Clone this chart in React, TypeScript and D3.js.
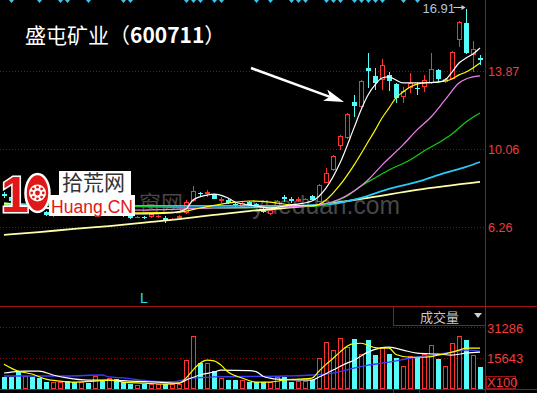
import React from 'react';
import * as d3 from 'd3';

// ---------- data ----------
const candleOpen = [
  7.88, 7.74, 7.59, 7.25, 7.35, 7.20, 7.01, 6.81, 6.91, 7.06,
  7.01, 6.91, 7.01, 6.81, 6.93, 6.84, 6.93, 6.88, 6.81, 6.72,
  6.76, 6.76, 6.76, 6.72, 6.62, 6.72, 6.96, 7.54, 7.94, 7.88,
  7.88, 7.54, 7.59, 7.40, 7.25, 7.50, 7.40, 7.16, 6.91, 7.25,
  7.74, 7.64, 7.54, 7.62, 7.79, 7.50, 8.42, 9.05, 10.22, 10.61,
  12.36, 12.12, 14.02, 13.63, 13.43, 13.68, 13.24, 12.60, 13.04, 13.04,
  13.09, 13.29, 13.92, 13.33, 13.48, 15.38, 16.21, 14.65, 14.50,
];
const candleHigh = [
  7.98, 7.79, 7.64, 7.45, 7.40, 7.25, 7.06, 6.96, 7.06, 7.11,
  7.06, 7.04, 7.04, 7.01, 6.98, 6.98, 6.96, 6.93, 6.86, 6.81,
  6.80, 6.96, 6.86, 6.81, 6.72, 6.86, 7.59, 8.27, 7.96, 8.08,
  7.90, 7.74, 7.64, 7.45, 7.50, 7.54, 7.45, 7.20, 7.16, 7.59,
  7.84, 7.74, 7.72, 7.70, 7.84, 8.37, 9.15, 9.80, 10.76, 11.83,
  12.70, 13.43, 14.75, 14.02, 14.45, 13.82, 13.29, 13.09, 13.77, 13.29,
  13.68, 14.75, 13.95, 13.53, 14.84, 16.30, 16.91, 15.33, 14.65,
];
const candleLow = [
  7.69, 7.50, 7.25, 7.20, 7.11, 6.96, 6.81, 6.76, 6.86, 6.91,
  6.88, 6.88, 6.88, 6.78, 6.81, 6.80, 6.83, 6.78, 6.68, 6.70,
  6.66, 6.72, 6.72, 6.47, 6.60, 6.68, 6.91, 7.50, 7.74, 7.74,
  7.62, 7.45, 7.40, 7.25, 7.20, 7.30, 7.22, 6.98, 6.86, 7.22,
  7.50, 7.45, 7.50, 7.60, 7.57, 7.48, 8.40, 9.00, 10.03, 10.58,
  11.63, 12.07, 13.04, 12.95, 12.95, 12.90, 12.31, 12.31, 12.80, 12.70,
  12.85, 13.24, 13.33, 13.29, 13.46, 15.04, 14.70, 13.82, 14.16,
];
const candleClose = [
  7.79, 7.54, 7.30, 7.40, 7.16, 7.01, 6.86, 6.91, 7.01, 6.96,
  6.91, 7.01, 6.93, 6.96, 6.86, 6.93, 6.88, 6.83, 6.72, 6.76,
  6.72, 6.91, 6.81, 6.57, 6.67, 6.81, 7.50, 8.03, 7.92, 7.98,
  7.64, 7.64, 7.45, 7.30, 7.45, 7.35, 7.25, 7.01, 7.11, 7.54,
  7.64, 7.54, 7.64, 7.66, 7.59, 8.32, 8.88, 9.73, 10.71, 11.78,
  12.17, 13.38, 13.87, 13.29, 14.16, 13.38, 12.56, 12.90, 13.29, 12.99,
  13.43, 13.97, 13.48, 13.48, 14.79, 16.25, 14.75, 14.94, 14.41,
];
const volumes = [
  6000, 6000, 9000, 6400, 6000, 5400, 3700, 3500, 3700, 4000,
  3700, 3300, 3200, 6700, 4000, 5700, 5000, 3700, 2700, 2000,
  2400, 2400, 2700, 2700, 2700, 2700, 14700, 26800, 13000, 13300,
  8900, 5400, 4500, 4500, 4500, 3700, 3700, 3700, 3300, 5900,
  6100, 3700, 4200, 4200, 4500, 15600, 23600, 19700, 26100, 21300,
  25600, 17700, 24700, 17200, 21300, 17700, 15500, 11600, 16700, 15500,
  18000, 22200, 15200, 11600, 23100, 26800, 24700, 17200, 11000,
];

// price moving averages: [candle index, price]
const ma5 = [[0,7.44],[5,7.25],[10,7.0],[15,6.96],[20,6.91],[24,6.96],[26,7.15],[27,7.59],[29,7.83],[30,7.88],[32,7.69],[33,7.49],[36,7.30],[38,7.20],[41,7.35],[44,7.54],[46,8.17],[48,9.39],[50,11.10],[51,11.97],[52,12.70],[53,13.19],[54,13.53],[55,13.58],[56,13.43],[57,13.29],[58,13.29],[60,13.29],[62,13.33],[63,13.43],[64,13.82],[65,14.26],[66,14.50],[67,14.70],[68,14.99]];
const ma10 = [[0,7.35],[10,7.15],[20,6.96],[25,7.0],[28,7.20],[32,7.44],[35,7.54],[38,7.49],[41,7.35],[44,7.30],[46,7.59],[48,8.32],[50,9.29],[52,10.41],[53,10.98],[54,11.58],[55,12.07],[56,12.56],[57,12.85],[58,13.09],[60,13.29],[62,13.33],[64,13.48],[65,13.68],[66,13.82],[67,14.02],[68,14.26]];
const ma20 = [[0,7.20],[10,7.15],[20,7.10],[30,7.20],[40,7.25],[45,7.35],[48,7.64],[52,8.56],[54,9.29],[57,10.27],[59,11.0],[61,11.63],[63,12.46],[65,13.29],[66,13.48],[68,13.63]];
const ma30 = [[0,7.44],[15,7.30],[30,7.20],[40,7.25],[45,7.30],[47,7.49],[49,7.78],[51,8.27],[53,8.66],[55,9.05],[58,9.54],[60,9.98],[62,10.36],[64,10.80],[66,11.39],[68,11.83]];
const ma60 = [[0,7.35],[20,7.30],[40,7.30],[45,7.35],[47,7.40],[51,7.69],[55,8.13],[59,8.47],[63,8.91],[66,9.20],[68,9.44]];
const ma120 = [[0,5.89],[5,6.03],[10,6.18],[15,6.32],[21,6.52],[25,6.66],[30,6.86],[35,7.05],[40,7.20],[45,7.35],[52,7.69],[59,8.08],[68,8.47]];

// volume moving averages: [candle index, volume]
const volMa5 = [[0,12600],[2,9100],[4,7600],[6,5000],[8,4000],[10,3500],[13,4000],[15,4500],[17,3500],[20,3000],[23,2500],[25,3000],[26,5500],[27,9600],[28,13000],[29,14600],[30,14300],[31,12100],[32,8600],[34,5600],[36,3500],[38,3500],[40,4500],[42,5000],[44,5500],[45,9000],[46,12500],[47,15500],[48,18700],[49,21700],[50,23000],[51,23200],[52,22200],[53,21000],[54,20700],[55,20700],[56,17500],[58,16100],[60,16100],[62,17200],[64,18700],[65,19700],[66,20700],[68,20700]];
const volMa10 = [[0,8100],[1,8600],[3,9100],[5,9100],[7,7100],[9,5600],[12,4500],[15,4500],[18,4000],[22,3500],[25,3000],[26,4500],[28,7100],[30,8600],[31,9600],[35,9300],[36,8800],[37,6500],[38,5500],[39,5000],[44,4500],[45,6100],[47,9600],[49,13100],[50,14600],[52,18700],[55,21200],[57,19700],[59,18200],[62,17700],[64,17200],[66,18200],[68,18700]];
const volMa20 = [[0,6600],[9,6600],[14,7100],[15,6100],[17,5600],[21,4000],[24,3700],[27,5600],[30,6100],[40,6600],[44,7100],[47,8100],[50,10600],[52,12100],[55,13600],[58,15600],[61,17200],[64,18700],[66,19700],[68,19200]];

const priceTicks = [13.87, 10.06, 6.26];
const volumeTicks = [31286, 15643];
const topMarks = [1,5,8,9,12,17,18,26,27,28,30,31,36,38,41,42,43,46,47,48,50,51,52,53,54,57,59];

const title = '盛屯矿业（';
const titleCode = '600711';

export default function App() {
  const W = 537, H = 393;
  const RED = '#ff3232', CYAN = '#54fcfc', GRID = '#8c0c0c', FRAME = '#a01414', LABEL = '#f03c3c';
  const x = d3.scaleLinear().domain([0, 68]).range([4, 480]);
  const y = d3.scaleLinear().domain([6.26, 13.87]).range([227.3, 71]);
  const yv = d3.scaleLinear().domain([0, 31286]).range([389, 327.3]);
  const panelRight = 485.5;
  const n = candleOpen.length;
  const idx = d3.range(n);

  const pLine = d3.line<number[]>().x(d => x(d[0])).y(d => y(d[1])).curve(d3.curveMonotoneX);
  const vLine = d3.line<number[]>().x(d => x(d[0])).y(d => yv(d[1])).curve(d3.curveMonotoneX);

  const maxI = d3.maxIndex(candleHigh);
  const hx = Math.round(x(maxI)) + 0.5;
  const hy = y(candleHigh[maxI]);

  // annotation arrow pointing at the breakout candle
  const tip = [x(50) - 10, y(candleOpen[50])];
  const tail = [tip[0] - 93, tip[1] - 34];
  const len = Math.hypot(tip[0] - tail[0], tip[1] - tail[1]);
  const ux = (tip[0] - tail[0]) / len, uy = (tip[1] - tail[1]) / len;
  const px = -uy, py = ux;
  const bx = tip[0] - 20 * ux, by = tip[1] - 20 * uy;
  const nx = tip[0] - 15 * ux, ny = tip[1] - 15 * uy;
  const head = `M${tip[0]},${tip[1]} L${bx + 6 * px},${by + 6 * py} L${nx},${ny} L${bx - 6 * px},${by - 6 * py} Z`;

  const num = 'Liberation Sans, Arial, sans-serif';
  const cjk = '"Noto Sans CJK SC", sans-serif';

  return (
    <div style={{ position: 'fixed', left: 0, top: 0, width: W, height: H, background: '#000' }}>
      <svg width={W} height={H} style={{ display: 'block' }}>
        <rect x={0} y={0} width={W} height={H} fill="#000" />

        {/* grid */}
        {priceTicks.map(t => (
          <line key={t} x1={0} x2={panelRight} y1={Math.round(y(t)) + 0.5} y2={Math.round(y(t)) + 0.5}
            stroke={GRID} strokeDasharray="1 2" />
        ))}
        {volumeTicks.map(t => (
          <line key={t} x1={0} x2={panelRight} y1={Math.round(yv(t)) + 0.5} y2={Math.round(yv(t)) + 0.5}
            stroke={GRID} strokeDasharray="1 2" />
        ))}

        {/* watermark */}
        <text x={139} y={211} fontSize={22} fontFamily={cjk} fill="#474747">窗网</text>
        <text x={252} y={214} fontSize={25} fontFamily={num} fill="#474747" textLength={148} lengthAdjust="spacingAndGlyphs">yueduan.com</text>

        {/* top markers */}
        {topMarks.map(i => {
          const cx = Math.round(x(i));
          return <path key={i} d={`M${cx - 2},0 L${cx + 3},0 L${cx + 0.5},3 Z`} fill="#3cc8f0" />;
        })}

        {/* candles */}
        {idx.map(i => {
          const o = candleOpen[i], c = candleClose[i], h = candleHigh[i], l = candleLow[i];
          const cx = Math.round(x(i));
          const wx = cx + 0.5;
          const top = Math.round(y(Math.max(o, c)));
          const bot = Math.round(y(Math.min(o, c)));
          const yh = Math.round(y(h)), yl = Math.round(y(l));
          const bh = Math.max(bot - top, 1);
          if (c >= o) {
            return (
              <g key={i}>
                <line x1={wx} x2={wx} y1={yh} y2={top} stroke={RED} />
                <line x1={wx} x2={wx} y1={top + bh} y2={yl} stroke={RED} />
                {bh <= 1
                  ? <rect x={cx - 2} y={top} width={5} height={1} fill={RED} />
                  : <rect x={cx - 1.5} y={top + 0.5} width={4} height={bh - 1} fill="#000" stroke={RED} />}
              </g>
            );
          }
          return (
            <g key={i}>
              <line x1={wx} x2={wx} y1={yh} y2={yl} stroke={CYAN} />
              <rect x={cx - 2} y={top} width={5} height={bh} fill={CYAN} />
            </g>
          );
        })}

        {/* price MAs */}
        <path d={pLine(ma120) || ''} fill="none" stroke="#ffffa8" strokeWidth={1.8} />
        <path d={pLine(ma60) || ''} fill="none" stroke="#28c8f8" strokeWidth={1.8} />
        <path d={pLine(ma30) || ''} fill="none" stroke="#10d010" strokeWidth={1.2} />
        <path d={pLine(ma20) || ''} fill="none" stroke="#f080f0" strokeWidth={1.2} />
        <path d={pLine(ma10) || ''} fill="none" stroke="#ffff00" strokeWidth={1.2} />
        <path d={pLine(ma5) || ''} fill="none" stroke="#ffffff" strokeWidth={1.2} />

        {/* logo */}
        <g>
          <text x={1} y={212} fontSize={50} fontWeight="bold" fontFamily={num}
            fill="#e01818" stroke="#ffffff" strokeWidth={3} style={{ paintOrder: 'stroke' }}>1</text>
          <ellipse cx={37.5} cy={193} rx={12} ry={19} fill="#e01818" stroke="#ffffff" strokeWidth={2.5} />
          <circle cx={37.5} cy={193} r={8.5} fill="#ffffff" />
          {d3.range(8).map(k => (
            <circle key={k} cx={37.5 + 5.8 * Math.cos(k * Math.PI / 4)} cy={193 + 5.8 * Math.sin(k * Math.PI / 4)} r={1.4} fill="#e01818" />
          ))}
          <circle cx={37.5} cy={193} r={2.4} fill="#e01818" />
          <rect x={59} y={171} width={72} height={25} fill="#ffffff" />
          <text x={62} y={190} fontSize={21} fontFamily={cjk} fill="#333333">拾荒网</text>
          <rect x={49} y={195} width={86} height={21} fill="#ffffff" />
          <text x={51} y={213} fontSize={18} fontFamily={num} fill="#e01818" textLength={82} lengthAdjust="spacingAndGlyphs">Huang.CN</text>
        </g>

        {/* title */}
        <text x={25} y={43} fontSize={21} fontFamily={cjk} fill="#ffffff">
          {title}<tspan fontWeight="bold">{titleCode}</tspan>）
        </text>

        {/* high label */}
        <text x={hx - 44} y={hy + 4} fontSize={13} fontFamily={num} fill="#b4c4d8">{candleHigh[maxI].toFixed(2)}</text>
        <line x1={hx - 13} x2={hx - 2} y1={Math.round(hy) - 1.5} y2={Math.round(hy) - 1.5} stroke="#c8d0d8" />
        <path d={`M${hx - 1},${Math.round(hy) - 1.5} L${hx - 5},${Math.round(hy) - 4} L${hx - 5},${Math.round(hy) + 1} Z`} fill="#c8d0d8" />

        {/* arrow */}
        <line x1={tail[0]} y1={tail[1]} x2={nx} y2={ny} stroke="#ffffff" strokeWidth={2.5} />
        <path d={head} fill="#ffffff" />

        {/* frame */}
        <line x1={panelRight} x2={panelRight} y1={0} y2={H} stroke={FRAME} />
        <line x1={0} x2={W} y1={306.5} y2={306.5} stroke={FRAME} />
        <line x1={0} x2={W} y1={389.5} y2={389.5} stroke={FRAME} />
        <line x1={393.5} x2={393.5} y1={389} y2={H} stroke={FRAME} />
        <line x1={419.5} x2={419.5} y1={389} y2={H} stroke={FRAME} />
        <rect x={393.5} y={306.5} width={92} height={19} fill="none" stroke={FRAME} />
        <text x={420} y={322} fontSize={13} fontFamily={cjk} fill="#c8c8c8">成交量</text>
        <path d="M474,313 L482,313 L478,318 Z" fill="#d0d0d0" />
        <text x={140} y={303} fontSize={14} fontFamily={num} fill="#28e0f0">L</text>

        {/* price labels */}
        {priceTicks.map(t => (
          <text key={t} x={488} y={y(t) + 5} fontSize={12.5} fontFamily={num} fill={LABEL}>{t.toFixed(2)}</text>
        ))}
        {volumeTicks.map(t => (
          <text key={t} x={487} y={yv(t) + 5.3} fontSize={13} fontFamily={num} fill={LABEL}>{t}</text>
        ))}
        <rect x={486.5} y={376.5} width={29} height={12} fill="none" stroke={FRAME} />
        <text x={487} y={387} fontSize={13} fontFamily={num} fill={LABEL}>X100</text>

        {/* volume bars */}
        {idx.map(i => {
          const cx = Math.round(x(i));
          const top = Math.round(yv(volumes[i]));
          const base = 389;
          if (candleClose[i] >= candleOpen[i]) {
            return <rect key={i} x={cx - 1.5} y={top + 0.5} width={4} height={base - top - 1} fill="#000" stroke={RED} />;
          }
          return <rect key={i} x={cx - 2} y={top} width={5} height={base - top} fill={CYAN} />;
        })}

        {/* volume MAs */}
        <path d={vLine(volMa20) || ''} fill="none" stroke="#3c3cff" strokeWidth={1.3} />
        <path d={vLine(volMa10) || ''} fill="none" stroke="#ffffff" strokeWidth={1.2} />
        <path d={vLine(volMa5) || ''} fill="none" stroke="#ffff00" strokeWidth={1.2} />
      </svg>
    </div>
  );
}
